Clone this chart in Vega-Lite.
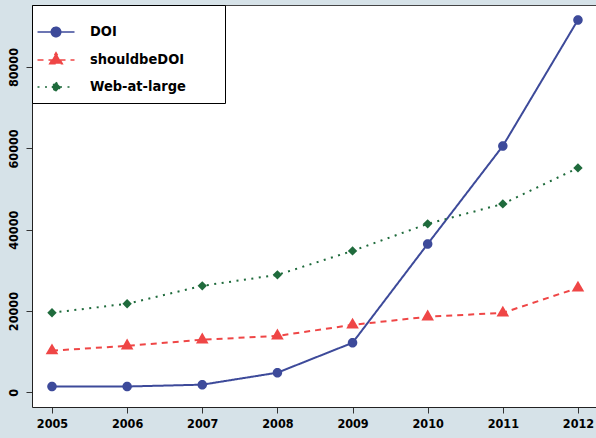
{
  "$schema": "https://vega.github.io/schema/vega-lite/v6.json",
  "width": 564,
  "height": 402,
  "padding": {"left": 32, "top": 5, "right": 0, "bottom": 31},
  "autosize": {"type": "none"},
  "background": "#d6e2e8",
  "view": {"fill": "white", "stroke": null},
  "config": {
    "view": {"fill": "white", "stroke": null},
    "font": "DejaVu Sans Condensed",
    "axis": {
      "labelFont": "DejaVu Sans Condensed",
      "labelFontSize": 12.5,
      "labelFontWeight": "bold",
      "labelColor": "black",
      "tickColor": "#333",
      "domainColor": "#222",
      "grid": false,
      "title": null
    }
  },
  "data": {
    "values": [
      {"year": 2005, "series": "DOI", "value": 1450},
      {"year": 2006, "series": "DOI", "value": 1450},
      {"year": 2007, "series": "DOI", "value": 1900},
      {"year": 2008, "series": "DOI", "value": 4850},
      {"year": 2009, "series": "DOI", "value": 12200},
      {"year": 2010, "series": "DOI", "value": 36500},
      {"year": 2011, "series": "DOI", "value": 60600},
      {"year": 2012, "series": "DOI", "value": 91600},
      {"year": 2005, "series": "shouldbeDOI", "value": 10250},
      {"year": 2006, "series": "shouldbeDOI", "value": 11450},
      {"year": 2007, "series": "shouldbeDOI", "value": 12950},
      {"year": 2008, "series": "shouldbeDOI", "value": 13900},
      {"year": 2009, "series": "shouldbeDOI", "value": 16600},
      {"year": 2010, "series": "shouldbeDOI", "value": 18600},
      {"year": 2011, "series": "shouldbeDOI", "value": 19550},
      {"year": 2012, "series": "shouldbeDOI", "value": 25700},
      {"year": 2005, "series": "Web-at-large", "value": 19600},
      {"year": 2006, "series": "Web-at-large", "value": 21800},
      {"year": 2007, "series": "Web-at-large", "value": 26200},
      {"year": 2008, "series": "Web-at-large", "value": 28900},
      {"year": 2009, "series": "Web-at-large", "value": 34800},
      {"year": 2010, "series": "Web-at-large", "value": 41450},
      {"year": 2011, "series": "Web-at-large", "value": 46350},
      {"year": 2012, "series": "Web-at-large", "value": 55200}
    ]
  },
  "resolve": {"axis": {"x": "independent"}},
  "layer": [
    {
      "mark": {"type": "line", "strokeWidth": 2, "strokeCap": "butt"},
      "encoding": {
        "x": {
          "field": "year", "type": "quantitative",
          "scale": {"domain": [2004.734, 2012.24], "nice": false, "zero": false},
          "axis": {"orient": "bottom", "values": [2005, 2006, 2007, 2008, 2009, 2010, 2011, 2012], "format": "d", "tickSize": 6, "labelPadding": 4, "labelFlush": false}
        },
        "y": {
          "field": "value", "type": "quantitative",
          "scale": {"domain": [-3590, 95260], "nice": false, "zero": false},
          "axis": {"values": [0, 20000, 40000, 60000, 80000], "format": "d", "tickSize": 6, "labelAngle": -90, "labelAlign": "center", "labelBaseline": "bottom", "labelPadding": 6}
        },
        "color": {
          "field": "series", "type": "nominal",
          "scale": {"domain": ["DOI", "shouldbeDOI", "Web-at-large"], "range": ["#3d4a9a", "#ef4646", "#1f6b3c"]},
          "legend": {
            "orient": "none", "legendX": 0, "legendY": 0,
            "title": " ", "titleOrient": "right", "titleAngle": 0, "titlePadding": 31.5,
            "titleFontSize": 14,
            "fillColor": "white", "strokeColor": "black", "padding": 7.5, "cornerRadius": 0,
            "symbolSize": 1369, "symbolOffset": -3, "symbolStrokeWidth": 1.5, "symbolOpacity": 1,
            "labelOffset": 14.5, "rowPadding": -4,
            "labelFont": "DejaVu Sans Condensed", "labelFontSize": 14.5, "labelFontWeight": "bold", "labelColor": "black"
          }
        },
        "strokeDash": {
          "field": "series", "type": "nominal",
          "scale": {"domain": ["DOI", "shouldbeDOI", "Web-at-large"], "range": [[1, 0], [6, 5], [2, 5.5]]},
          "legend": null
        }
      }
    },
    {
      "transform": [{"filter": "datum.series === 'DOI'"}],
      "mark": {"type": "point", "filled": true, "opacity": 1, "size": 100, "strokeWidth": 0, "color": "#3d4a9a", "shape": "M-0.95,0A0.95,0.95 0 1,0 0.95,0A0.95,0.95 0 1,0 -0.95,0Z"},
      "encoding": {
        "x": {
          "field": "year", "type": "quantitative",
          "scale": {"domain": [2004.734, 2012.24], "nice": false, "zero": false},
          "axis": {"orient": "top", "labels": false, "ticks": false, "domain": true, "domainColor": "#444"}
        },
        "y": {"field": "value", "type": "quantitative"}
      }
    },
    {
      "transform": [{"filter": "datum.series === 'shouldbeDOI'"}],
      "mark": {"type": "point", "filled": true, "opacity": 1, "size": 100, "strokeWidth": 0, "color": "#ef4646", "shape": "M-1.26,0.73L1.26,0.73L0,-1.45Z"},
      "encoding": {
        "x": {"field": "year", "type": "quantitative", "axis": null},
        "y": {"field": "value", "type": "quantitative"}
      }
    },
    {
      "transform": [{"filter": "datum.series === 'Web-at-large'"}],
      "mark": {"type": "point", "filled": true, "opacity": 1, "size": 100, "strokeWidth": 0, "color": "#1f6b3c", "shape": "M0,-0.94L0.94,0L0,0.94L-0.94,0Z"},
      "encoding": {
        "x": {"field": "year", "type": "quantitative", "axis": null},
        "y": {"field": "value", "type": "quantitative"}
      }
    },
    {
      "transform": [{"filter": "false"}],
      "mark": {"type": "point", "filled": true, "opacity": 1},
      "encoding": {
        "x": {"field": "year", "type": "quantitative", "axis": null},
        "y": {"field": "value", "type": "quantitative"},
        "fill": {
          "field": "series", "type": "nominal",
          "scale": {"domain": ["DOI", "shouldbeDOI", "Web-at-large"], "range": ["#3d4a9a", "#ef4646", "#1f6b3c"]},
          "legend": null
        },
        "shape": {
          "field": "series", "type": "nominal",
          "scale": {"domain": ["DOI", "shouldbeDOI", "Web-at-large"], "range": ["M-1,0H1M-0.257,0A0.257,0.257 0 1,0 0.257,0A0.257,0.257 0 1,0 -0.257,0Z", "M-1,0H1M-0.34,0.197L0.34,0.197L0,-0.392Z", "M-1,0H1M0,-0.254L0.254,0L0,0.254L-0.254,0Z"]},
          "legend": null
        }
      }
    }
  ]
}
